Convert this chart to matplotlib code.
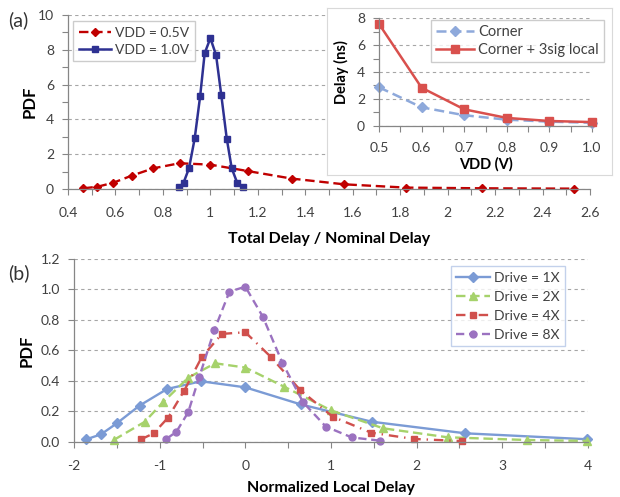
import matplotlib
matplotlib.use("Agg")
import matplotlib.pyplot as plt
from matplotlib.ticker import MultipleLocator, FormatStrFormatter

plt.rcParams['font.family'] = ['Lato', 'DejaVu Sans']
plt.rcParams['axes.unicode_minus'] = False

# panel (a): delay distributions
ratio_05 = [0.465, 0.524, 0.591, 0.669, 0.76, 0.87, 1.0, 1.158, 1.342, 1.563, 1.824, 2.143, 2.532]
pdf_05 = [0.04, 0.13, 0.36, 0.77, 1.19, 1.48, 1.40, 1.03, 0.60, 0.27, 0.08, 0.04, 0.02]
ratio_10 = [0.869, 0.887, 0.91, 0.934, 0.957, 0.976, 1.0, 1.024, 1.046, 1.069, 1.09, 1.113, 1.137]
pdf_10 = [0.10, 0.36, 1.19, 2.91, 5.34, 7.80, 8.67, 7.70, 5.40, 2.90, 1.19, 0.36, 0.10]

# inset: delay vs VDD
vdd = [0.5, 0.6, 0.7, 0.8, 0.9, 1.0]
delay_corner = [2.86, 1.37, 0.78, 0.45, 0.30, 0.22]
delay_3sig = [7.58, 2.83, 1.22, 0.58, 0.35, 0.27]

# panel (b): normalized local delay
x_1x = [-1.855, -1.686, -1.502, -1.235, -0.914, -0.518, 0.0, 0.647, 1.478, 2.57, 3.99]
y_1x = [0.016, 0.048, 0.12, 0.237, 0.346, 0.397, 0.357, 0.245, 0.131, 0.055, 0.016]
x_2x = [-1.537, -1.176, -0.96, -0.667, -0.353, 0.0, 0.45, 1.0, 1.608, 2.36, 3.29, 3.99]
y_2x = [0.011, 0.13, 0.26, 0.42, 0.515, 0.487, 0.362, 0.206, 0.088, 0.029, 0.011, 0.005]
x_4x = [-1.216, -1.07, -0.902, -0.714, -0.51, -0.274, 0.0, 0.294, 0.639, 1.02, 1.47, 1.968, 2.53]
y_4x = [0.016, 0.055, 0.158, 0.335, 0.554, 0.708, 0.719, 0.559, 0.34, 0.164, 0.059, 0.018, 0.004]
x_8x = [-0.921, -0.804, -0.667, -0.537, -0.361, -0.185, 0.0, 0.204, 0.432, 0.674, 0.94, 1.243, 1.568]
y_8x = [0.018, 0.066, 0.193, 0.427, 0.734, 0.986, 1.018, 0.821, 0.519, 0.259, 0.099, 0.028, 0.007]

AXIS_GRAY = '#868686'
TEXT = '#404040'


def style_axes(ax, fs=10):
    for s in ['top', 'right']:
        ax.spines[s].set_visible(False)
    for s in ['left', 'bottom']:
        ax.spines[s].set_color(AXIS_GRAY)
        ax.spines[s].set_linewidth(0.9)
    ax.tick_params(which='both', direction='out', color=AXIS_GRAY, labelcolor=TEXT,
                   labelsize=fs, width=0.8)
    ax.tick_params(which='major', length=4, pad=6)
    ax.tick_params(which='minor', length=4)
    ax.yaxis.grid(True, color='#a6a6a6', linestyle=(0, (3, 3)), linewidth=0.8)
    ax.set_axisbelow(True)


fig = plt.figure(figsize=(6.2, 4.97), dpi=100)

# ---- panel (a)
ax1 = fig.add_axes([68 / 620, 1 - 189 / 497, 522 / 620, 174 / 497])
ax1.plot(ratio_05, pdf_05, color='#C00000', linestyle=(0, (4, 2)), linewidth=1.7,
         marker='D', markersize=4.5, label='VDD = 0.5V', clip_on=False)
ax1.plot(ratio_10, pdf_10, color='#2E3192', linewidth=1.8,
         marker='s', markersize=4.5, label='VDD = 1.0V', clip_on=False)
ax1.set_xlim(0.4, 2.6)
ax1.set_ylim(0, 10)
ax1.xaxis.set_major_locator(MultipleLocator(0.2))
ax1.xaxis.set_minor_locator(MultipleLocator(0.1))
ax1.yaxis.set_major_locator(MultipleLocator(2))
ax1.yaxis.set_minor_locator(MultipleLocator(1))
ax1.set_xticks([0.4, 0.6, 0.8, 1.0, 1.2, 1.4, 1.6, 1.8, 2.0, 2.2, 2.4, 2.6])
ax1.set_xticklabels(['0.4', '0.6', '0.8', '1', '1.2', '1.4', '1.6', '1.8', '2', '2.2', '2.4', '2.6'])
style_axes(ax1)
ax1.tick_params(axis='x', pad=9)
ax1.set_xlabel('Total Delay / Nominal Delay', fontsize=11.5, fontweight='bold', labelpad=9)
ax1.set_ylabel('PDF', fontsize=12, fontweight='bold', labelpad=0)
leg1 = ax1.legend(loc='upper left', bbox_to_anchor=(0.005, 0.98), fontsize=10, frameon=True,
                  fancybox=False, edgecolor='#c0c0c0', handlelength=2.3, borderpad=0.4,
                  labelspacing=0.35, handletextpad=0.3, borderaxespad=0.2)
for t in leg1.get_texts():
    t.set_color(TEXT)
fig.text(8 / 620, 1 - 20 / 497, '(a)', fontsize=14, color='#333333', va='center')

# ---- inset background box
bg = fig.add_axes([327 / 620, 1 - 175 / 497, 285 / 620, 167 / 497])
bg.set_xticks([])
bg.set_yticks([])
for s in bg.spines.values():
    s.set_color('#d9d9d9')
bg.set_zorder(2)

ax_in = fig.add_axes([379 / 620, 1 - 125.7 / 497, 213 / 620, 107.4 / 497])
ax_in.set_zorder(3)
ax_in.set_facecolor('none')
ax_in.plot(vdd, delay_corner, color='#8EA9DB', linestyle=(0, (4, 2)), linewidth=1.8,
           marker='D', markersize=5, label='Corner', clip_on=False)
ax_in.plot(vdd, delay_3sig, color='#D9504D', linewidth=1.8,
           marker='s', markersize=6, label='Corner + 3sig local', clip_on=False)
ax_in.set_xlim(0.5, 1.0)
ax_in.set_ylim(0, 8)
ax_in.xaxis.set_major_locator(MultipleLocator(0.1))
ax_in.xaxis.set_minor_locator(MultipleLocator(0.05))
ax_in.yaxis.set_major_locator(MultipleLocator(2))
ax_in.yaxis.set_minor_locator(MultipleLocator(1))
ax_in.xaxis.set_major_formatter(FormatStrFormatter('%.1f'))
style_axes(ax_in)
ax_in.tick_params(axis='x', pad=8)
ax_in.set_xlabel('VDD (V)', fontsize=10.5, fontweight='bold', labelpad=2)
ax_in.set_ylabel('Delay (ns)', fontsize=10.5, fontweight='bold', labelpad=6)
leg_in = ax_in.legend(loc='upper right', bbox_to_anchor=(1.056, 0.985), fontsize=10.5, frameon=True,
                      fancybox=False, edgecolor='#c0c0c0', handlelength=2.6, borderpad=0.35,
                      labelspacing=0.25, handletextpad=0.3, borderaxespad=0)
for t in leg_in.get_texts():
    t.set_color(TEXT)

# ---- panel (b)
ax2 = fig.add_axes([74 / 620, 1 - 441.7 / 497, 514 / 620, 182.7 / 497])
ax2.plot(x_1x, y_1x, color='#7B9BD5', linewidth=1.7, marker='D', markersize=5,
         label='Drive = 1X', clip_on=False)
ax2.plot(x_2x, y_2x, color='#A6D26B', linestyle=(0, (4, 2)), linewidth=1.7, marker='^',
         markersize=5.5, label='Drive = 2X', clip_on=False)
ax2.plot(x_4x, y_4x, color='#D0504D', linestyle=(0, (4, 2.5, 0.6, 2.5)), linewidth=1.7,
         marker='s', markersize=5, label='Drive = 4X', clip_on=False)
ax2.plot(x_8x, y_8x, color='#9B72C0', linestyle=(0, (3.5, 2)), linewidth=1.7, marker='o',
         markersize=5, label='Drive = 8X', clip_on=False)
ax2.set_xlim(-2, 4)
ax2.set_ylim(0, 1.2)
ax2.xaxis.set_major_locator(MultipleLocator(1))
ax2.xaxis.set_minor_locator(MultipleLocator(0.5))
ax2.yaxis.set_major_locator(MultipleLocator(0.2))
ax2.yaxis.set_major_formatter(FormatStrFormatter('%.1f'))
style_axes(ax2)
ax2.tick_params(axis='x', pad=9)
ax2.set_xlabel('Normalized Local Delay', fontsize=11.5, fontweight='bold', labelpad=7)
ax2.set_ylabel('PDF', fontsize=12, fontweight='bold', labelpad=4)
leg2 = ax2.legend(loc='upper right', bbox_to_anchor=(0.955, 0.96), fontsize=10, frameon=True,
                  fancybox=False, edgecolor='#b4c6e7', handlelength=2.4, borderpad=0.4,
                  labelspacing=0.5, handletextpad=0.3, borderaxespad=0)
for t in leg2.get_texts():
    t.set_color(TEXT)
fig.text(8 / 620, 1 - 273 / 497, '(b)', fontsize=14, color='#333333', va='center')

fig.savefig('out.png', dpi=100)
